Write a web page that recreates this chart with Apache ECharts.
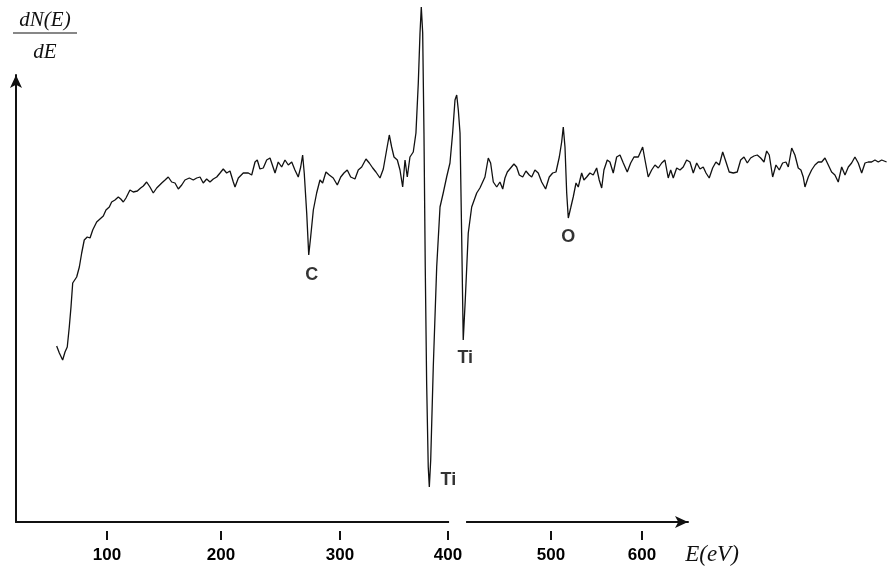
<!DOCTYPE html>
<html><head><meta charset="utf-8">
<script src="https://cdn.jsdelivr.net/npm/echarts@6/dist/echarts.min.js"></script>
<style>html,body{margin:0;padding:0;background:#fff}#c{width:888px;height:571px}</style>
</head><body><div id="c"></div><script>
// Energy (eV, as scaled on the drawn axis) and dN(E)/dE (arbitrary units)
const energy = [53.0,55.5,58.6,60.8,62.9,64.8,66.4,68.0,71.7,74.2,76.4,78.8,81.6,84.2,86.7,90.4,93.5,96.6,99.1,102.2,104.4,107.5,110.6,112.9,115.3,117.8,121.5,124.6,128.4,131.5,134.0,137.1,140.2,143.3,146.5,151.2,154.3,157.3,160.5,163.6,166.7,169.9,172.9,177.0,180.7,183.9,187.0,190.0,193.2,196.3,199.4,202.6,205.7,208.7,211.9,215.0,218.1,219.7,222.8,227.4,232.1,235.3,238.4,240.5,243.0,246.1,249.3,252.4,254.0,257.1,260.1,263.3,266.4,269.5,272.7,275.7,278.8,281.1,282.9,284.4,286.7,288.6,290.4,292.9,296.0,299.1,301.6,304.7,307.8,311.5,315.3,318.5,321.5,324.6,327.8,331.8,334.9,338.1,342.1,345.2,348.4,351.4,355.2,358.3,361.4,363.9,366.1,368.3,371.4,373.9,376.4,378.6,380.7,383.2,386.3,388.8,391.0,392.6,393.8,395.1,396.3,397.5,398.8,400.3,401.3,402.6,405.0,408.2,411.3,414.3,417.5,420.6,423.1,425.3,426.9,428.4,430.0,431.5,433.0,434.9,437.7,440.9,445.6,448.6,453.3,456.4,458.6,461.1,464.3,467.3,469.9,472.0,474.2,477.3,480.4,482.9,485.4,488.6,491.6,494.7,497.0,500.0,503.1,506.3,510.0,513.4,516.6,519.7,522.8,525.0,526.5,528.1,529.7,531.2,533.4,535.8,538.4,540.5,543.7,545.8,548.4,551.4,554.5,557.7,560.1,562.4,564.5,567.6,570.1,573.2,576.4,579.5,582.6,586.3,589.5,592.6,596.6,600.7,602.9,605.9,609.1,612.2,615.3,618.5,621.5,624.6,626.9,629.3,632.5,635.6,638.6,641.8,644.9,648.0,651.2,654.3,657.3,659.9,662.9,666.1,669.2,672.3,675.5,678.6,681.6,685.4,689.1,692.3,695.4,698.5,701.6,704.7,707.8,711.0,714.1,716.6,719.0,722.2,725.3,728.4,731.5,734.6,736.8,740.0,743.0,746.1,748.6,750.8,752.4,755.5,758.6,761.7,764.8,768.0,771.1,774.2,777.3,780.4,783.5,786.7,789.8,792.9,796.0,799.1,802.2,805.4,808.5,811.5,814.7,817.8,820.9,824.1,828.7];
const signal = [176,169,162,170,175,195,215,239,245,255,269,282,285,284,292,300,303,306,312,315,320,322,325,323,320,324,332,330,331,334,336,340,335,329,334,339,342,345,340,339,333,337,342,344,342,344,345,339,343,340,343,345,349,353,349,351,340,335,344,349,349,347,360,362,353,354,362,364,362,349,360,355,362,357,360,352,345,355,367,349,309,267,285,312,329,342,339,350,347,344,337,345,349,352,345,343,352,355,363,359,354,350,344,353,372,387,375,365,362,352,335,362,345,365,370,389,439,489,515,489,389,255,139,55,35,62,155,255,315,329,345,359,389,422,427,412,389,289,182,222,289,315,329,334,345,364,359,340,335,340,333,344,350,354,358,355,347,345,351,347,345,352,349,340,333,345,349,350,365,380,395,375,329,304,314,325,339,335,349,342,345,349,347,354,342,334,352,362,360,349,365,367,359,350,359,365,365,375,362,345,352,357,354,359,362,344,352,344,354,352,355,362,360,349,359,353,355,349,344,354,360,357,370,360,350,349,350,362,365,359,364,366,367,364,360,371,367,345,357,352,359,360,355,374,367,354,352,345,335,345,352,357,360,360,364,357,350,347,340,355,347,355,359,365,359,349,359,360,360,362,360,362,360];

const tickLabels = [100, 200, 300, 400, 500, 600];
const tickPositions = [100, 206.6, 317.8, 418.7, 515.0, 600.0];

const peakNames = ['C', 'Ti', 'Ti', 'O'];
const peakEnergy = [288.6, 401.3, 433.0, 531.2];
const peakSignal = [267, 35, 182, 304];

const axisGap = [419.7, 435.6];
// data window and drawn-axis window
const xMin = 15, xMax = 830, yMin = 0, yMax = 522;
const axisXMax = 643, axisYMax = 447;

const peakLabelOffsets = [[3, 20], [19, -7], [2, 18], [0, 19]];

const chart = echarts.init(document.getElementById('c'), null, {renderer: 'canvas'});
const ink = '#111';
const axisLineStyle = {color: ink, width: 2};
const hidden = {axisLine: {show: false, onZero: false}, axisTick: {show: false}, axisLabel: {show: false}, splitLine: {show: false}};

chart.setOption({
  animation: false,
  backgroundColor: '#fff',
  grid: [
    {left: 16, right: 0, top: 0, bottom: 49},      // data grid
    {left: 16, right: 200, top: 75, bottom: 49}    // drawn axes with arrows
  ],
  xAxis: [
    Object.assign({type: 'value', gridIndex: 0, min: xMin, max: xMax}, hidden),
    {type: 'value', gridIndex: 1, min: xMin, max: axisXMax,
     axisLine: {show: true, onZero: false, symbol: ['none', 'arrow'], symbolSize: [9, 13], lineStyle: axisLineStyle},
     axisTick: {show: false}, axisLabel: {show: false}, splitLine: {show: false}},
    {type: 'value', gridIndex: 1, min: xMin, max: axisXMax, position: 'bottom', offset: 9,
     axisLine: {show: false, onZero: false},
     axisTick: {show: true, customValues: tickPositions, length: 9, lineStyle: {color: ink, width: 2}},
     axisLabel: {show: true, customValues: tickPositions, margin: 16,
       formatter: v => {
         let best = 0;
         tickPositions.forEach((p, i) => { if (Math.abs(p - v) < Math.abs(tickPositions[best] - v)) best = i; });
         return String(tickLabels[best]);
       },
       fontFamily: 'Liberation Sans', fontWeight: 'bold', fontSize: 17, color: '#000'},
     splitLine: {show: false}}
  ],
  yAxis: [
    Object.assign({type: 'value', gridIndex: 0, min: yMin, max: yMax}, hidden),
    {type: 'value', gridIndex: 1, min: yMin, max: axisYMax,
     axisLine: {show: true, onZero: false, symbol: ['none', 'arrow'], symbolSize: [9, 13], lineStyle: axisLineStyle},
     axisTick: {show: false}, axisLabel: {show: false}, splitLine: {show: false}}
  ],
  series: [
    {type: 'line', xAxisIndex: 0, yAxisIndex: 0, data: energy.map((e, i) => [e, signal[i]]),
     symbol: 'none', showSymbol: false, clip: false,
     lineStyle: {color: ink, width: 1.3}},
    {type: 'scatter', xAxisIndex: 0, yAxisIndex: 0, clip: false, symbolSize: 0,
     itemStyle: {color: ink},
     data: peakNames.map((n, i) => ({name: n, value: [peakEnergy[i], peakSignal[i]],
       label: {offset: peakLabelOffsets[i]}})),
     label: {show: true, position: 'inside', formatter: '{b}',
       fontFamily: 'Liberation Sans', fontWeight: 'bold', fontSize: 18, color: '#000'}}
  ],
  graphic: [
    {id: 'ylab1', type: 'text', x: 45, y: 20, style: {text: 'dN(E)', font: 'italic 21px "Liberation Serif"', fill: ink, textAlign: 'center', textVerticalAlign: 'middle'}},
    {id: 'ybar', type: 'line', shape: {x1: 13, y1: 33, x2: 77, y2: 33}, style: {stroke: ink, lineWidth: 1.2}},
    {id: 'ylab2', type: 'text', x: 45, y: 52, style: {text: 'dE', font: 'italic 21px "Liberation Serif"', fill: ink, textAlign: 'center', textVerticalAlign: 'middle'}},
    {id: 'xlab', type: 'text', x: 712, y: 555, style: {text: 'E(eV)', font: 'italic 23px "Liberation Serif"', fill: ink, textAlign: 'center', textVerticalAlign: 'middle'}}
  ]
});

// gap (break) in the horizontal axis line
const g0 = chart.convertToPixel({xAxisIndex: 1, yAxisIndex: 1}, [axisGap[0], yMin]);
const g1 = chart.convertToPixel({xAxisIndex: 1, yAxisIndex: 1}, [axisGap[1], yMin]);
chart.setOption({graphic: [{id: 'gap', type: 'rect', z: 100,
  shape: {x: g0[0], y: g0[1] - 3, width: g1[0] - g0[0], height: 6}, style: {fill: '#fff'}}]});
</script></body></html>
